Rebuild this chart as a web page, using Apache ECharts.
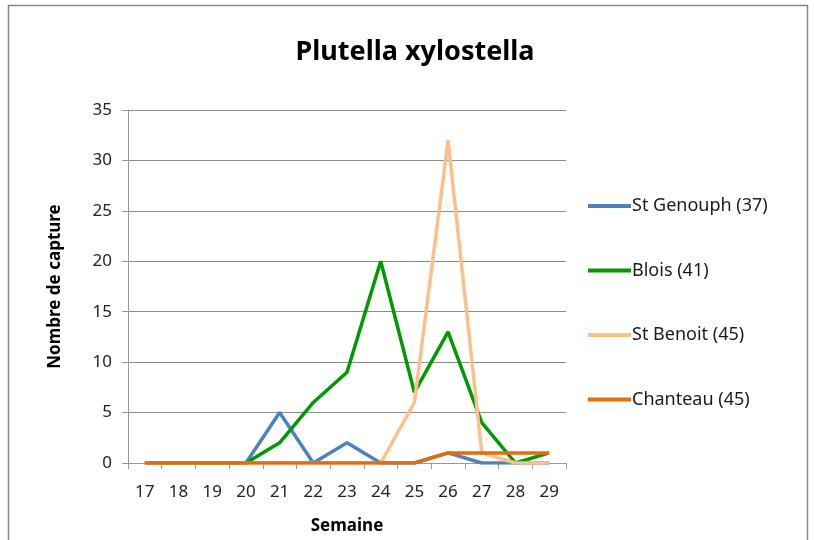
<!DOCTYPE html>
<html><head><meta charset="utf-8">
<script src="https://cdn.jsdelivr.net/npm/echarts@6/dist/echarts.min.js"></script>
<style>html,body{margin:0;padding:0;background:#fff}#c{width:814px;height:540px}</style>
</head><body><div id="c"></div>
<script>
const weeks = ['17','18','19','20','21','22','23','24','25','26','27','28','29'];
const stGenouph = [0,0,0,0,5,0,2,0,0,1,0,0,0];
const blois = [0,0,0,0,2,6,9,20,7,13,4,0,1];
const stBenoit = [0,0,0,0,0,0,0,0,6,32,1,0,0];
const chanteau = [0,0,0,0,0,0,0,0,0,1,1,1,1];
const seriesNames = ['St Genouph (37)','Blois (41)','St Benoit (45)','Chanteau (45)'];
const colors = ['#4F81BD','#009A00','#FFBF8C','#E46C0A'];
const FONT = "'Noto Sans',sans-serif";
const chart = echarts.init(document.getElementById('c'));
const dataSets = [stGenouph, blois, stBenoit, chanteau];
chart.setOption({
  animation:false,
  title:{text:'Plutella xylostella',left:410,top:34,textAlign:'center',
    textStyle:{fontFamily:FONT,fontSize:27,fontWeight:'bold',color:'#000'}},
  graphic:[{type:'rect',shape:{x:8.5,y:5.5,width:799,height:560},style:{fill:null,stroke:'#888',lineWidth:1.5},silent:true}],
  legend:{orient:'vertical',left:583,top:192,itemGap:46.5,itemWidth:43,itemHeight:4,icon:'rect',
    textStyle:{fontFamily:FONT,fontSize:18,color:'#1a1a1a',padding:[0,0,0,-4]},
    data:seriesNames},
  grid:{left:128,right:248,top:110,bottom:77},
  xAxis:{type:'category',data:weeks,boundaryGap:true,
    name:'Semaine',nameLocation:'middle',nameGap:55,
    nameTextStyle:{fontFamily:FONT,fontSize:17,fontWeight:'bold',color:'#000'},
    axisLine:{lineStyle:{color:'#999',width:1}},
    axisTick:{show:true,length:6,lineStyle:{color:'#999'},alignWithLabel:false},
    axisLabel:{fontFamily:FONT,fontSize:17,color:'#222',margin:21}},
  yAxis:{type:'value',min:0,max:35,interval:5,
    name:'Nombre de capture',nameLocation:'middle',nameGap:64,nameRotate:90,
    nameTextStyle:{fontFamily:FONT,fontSize:17,fontWeight:'bold',color:'#000'},
    axisLine:{show:true,lineStyle:{color:'#999'}},
    axisTick:{show:true,length:6,lineStyle:{color:'#999'}},
    splitLine:{lineStyle:{color:'#8c8c8c',width:1}},
    axisLabel:{fontFamily:FONT,fontSize:17,color:'#222',margin:16}},
  series: dataSets.map((d,i)=>({name:seriesNames[i],type:'line',data:d,showSymbol:false,symbol:'none',
    lineStyle:{color:colors[i],width:3.5},itemStyle:{color:colors[i]}}))
});
</script></body></html>
